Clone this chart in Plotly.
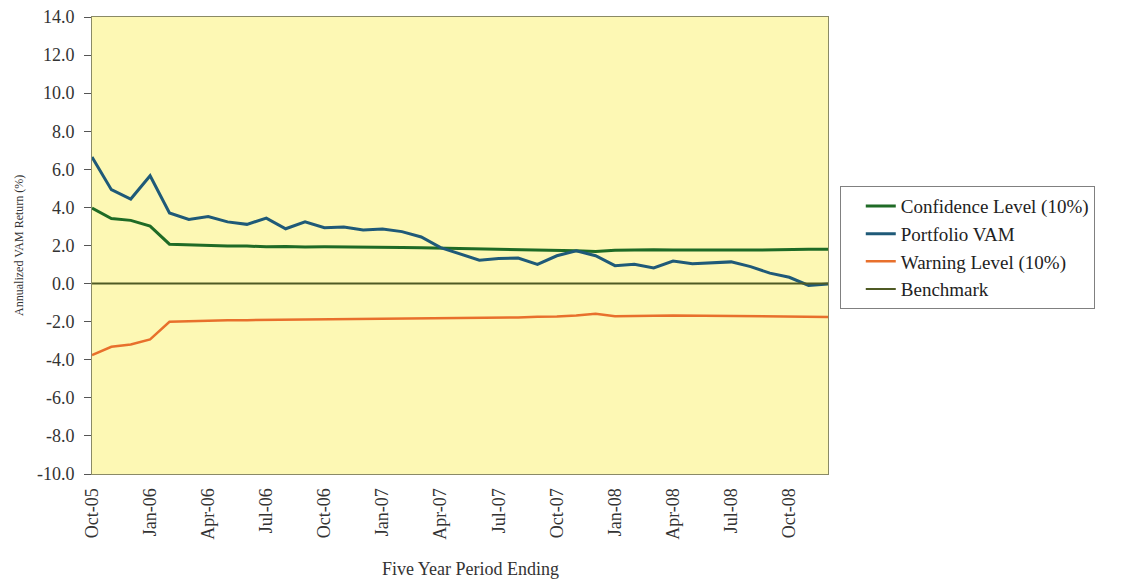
import plotly.graph_objects as go

# monthly five-year periods ending Oct-05 .. Dec-08
months = ['Oct-05', 'Nov-05', 'Dec-05',
          'Jan-06', 'Feb-06', 'Mar-06', 'Apr-06', 'May-06', 'Jun-06',
          'Jul-06', 'Aug-06', 'Sep-06', 'Oct-06', 'Nov-06', 'Dec-06',
          'Jan-07', 'Feb-07', 'Mar-07', 'Apr-07', 'May-07', 'Jun-07',
          'Jul-07', 'Aug-07', 'Sep-07', 'Oct-07', 'Nov-07', 'Dec-07',
          'Jan-08', 'Feb-08', 'Mar-08', 'Apr-08', 'May-08', 'Jun-08',
          'Jul-08', 'Aug-08', 'Sep-08', 'Oct-08', 'Nov-08', 'Dec-08']

confidence = [3.97, 3.42, 3.32, 3.02, 2.07, 2.03, 2.00, 1.98, 1.97, 1.93,
              1.95, 1.92, 1.93, 1.93, 1.92, 1.91, 1.90, 1.88, 1.86, 1.85,
              1.83, 1.81, 1.80, 1.77, 1.76, 1.72, 1.68, 1.75, 1.76, 1.78,
              1.76, 1.75, 1.75, 1.76, 1.76, 1.78, 1.78, 1.80, 1.80]

portfolio = [6.65, 4.93, 4.44, 5.66, 3.71, 3.37, 3.52, 3.24, 3.11, 3.44,
             2.88, 3.24, 2.93, 2.97, 2.81, 2.86, 2.73, 2.45, 1.89, 1.54,
             1.23, 1.32, 1.34, 1.01, 1.46, 1.72, 1.46, 0.94, 1.02, 0.82,
             1.18, 1.04, 1.08, 1.14, 0.89, 0.55, 0.33, -0.10, -0.02]

warning = [-3.75, -3.32, -3.20, -2.93, -2.01, -1.97, -1.95, -1.93, -1.92, -1.91,
           -1.92, -1.90, -1.89, -1.88, -1.88, -1.86, -1.85, -1.84, -1.82, -1.80,
           -1.80, -1.79, -1.78, -1.74, -1.73, -1.68, -1.58, -1.71, -1.71, -1.69,
           -1.67, -1.68, -1.69, -1.70, -1.71, -1.72, -1.74, -1.75, -1.75]

benchmark = [0.0] * len(months)

tick_labels = months[::3]
y_ticks = [14, 12, 10, 8, 6, 4, 2, 0, -2, -4, -6, -8, -10]
# plain hyphen minus like the original, not the unicode minus plotly uses
y_tick_text = ['%.1f' % v for v in y_ticks]

SERIF = 'Liberation Serif, Times New Roman, serif'

fig = go.Figure()
series = [
    ('Confidence Level (10%)', confidence, '#1f6b26', 3),
    ('Portfolio VAM', portfolio, '#1f5a78', 3),
    ('Warning Level (10%)', warning, '#e8702c', 2.5),
    ('Benchmark', benchmark, '#4f5a24', 2),
]
for name, vals, color, w in series:
    fig.add_trace(go.Scatter(x=months, y=vals, name=name, mode='lines',
                             line=dict(color=color, width=w)))

# the page body adds 8px, margins are trimmed for that
fig.update_layout(
    width=1126, height=585,
    margin=dict(l=84, r=306, t=9, b=119),
    paper_bgcolor='white',
    plot_bgcolor='#fdf8b4',
    font=dict(family=SERIF, size=18, color='#333333'),
    showlegend=True,
    legend=dict(x=1.016, y=0.63, xanchor='left', yanchor='top',
                bordercolor='#808080', borderwidth=1, bgcolor='white',
                indentation=20,
                font=dict(family=SERIF, size=19, color='#222222')),
)
fig.update_xaxes(type='category', range=[0, len(months) - 1], automargin=False,
                 tickmode='array', tickvals=tick_labels, ticktext=tick_labels,
                 tickangle=-90, ticklabelstandoff=6,
                 showgrid=False, zeroline=False,
                 showline=True, mirror=True, linecolor='#8a8a66', linewidth=1,
                 ticks='')
fig.update_yaxes(range=[-10, 14], automargin=False,
                 tickmode='array', tickvals=y_ticks, ticktext=y_tick_text,
                 ticklabelstandoff=6, ticklabeloverflow='allow',
                 showgrid=False, zeroline=False,
                 showline=True, mirror=True, linecolor='#8a8a66', linewidth=1,
                 ticks='outside', ticklen=7, tickcolor='#555555')

fig.add_annotation(text='Annualized VAM Return (%)', xref='paper', yref='paper',
                   x=-0.1, y=0.5, textangle=-90, showarrow=False,
                   xanchor='center', yanchor='middle',
                   font=dict(family=SERIF, size=12, color='#333333'))
fig.add_annotation(text='Five Year Period Ending', xref='paper', yref='paper',
                   x=0.514, y=-0.208, showarrow=False, yanchor='middle',
                   font=dict(family=SERIF, size=18, color='#333333'))

fig.write_html('out.html')
